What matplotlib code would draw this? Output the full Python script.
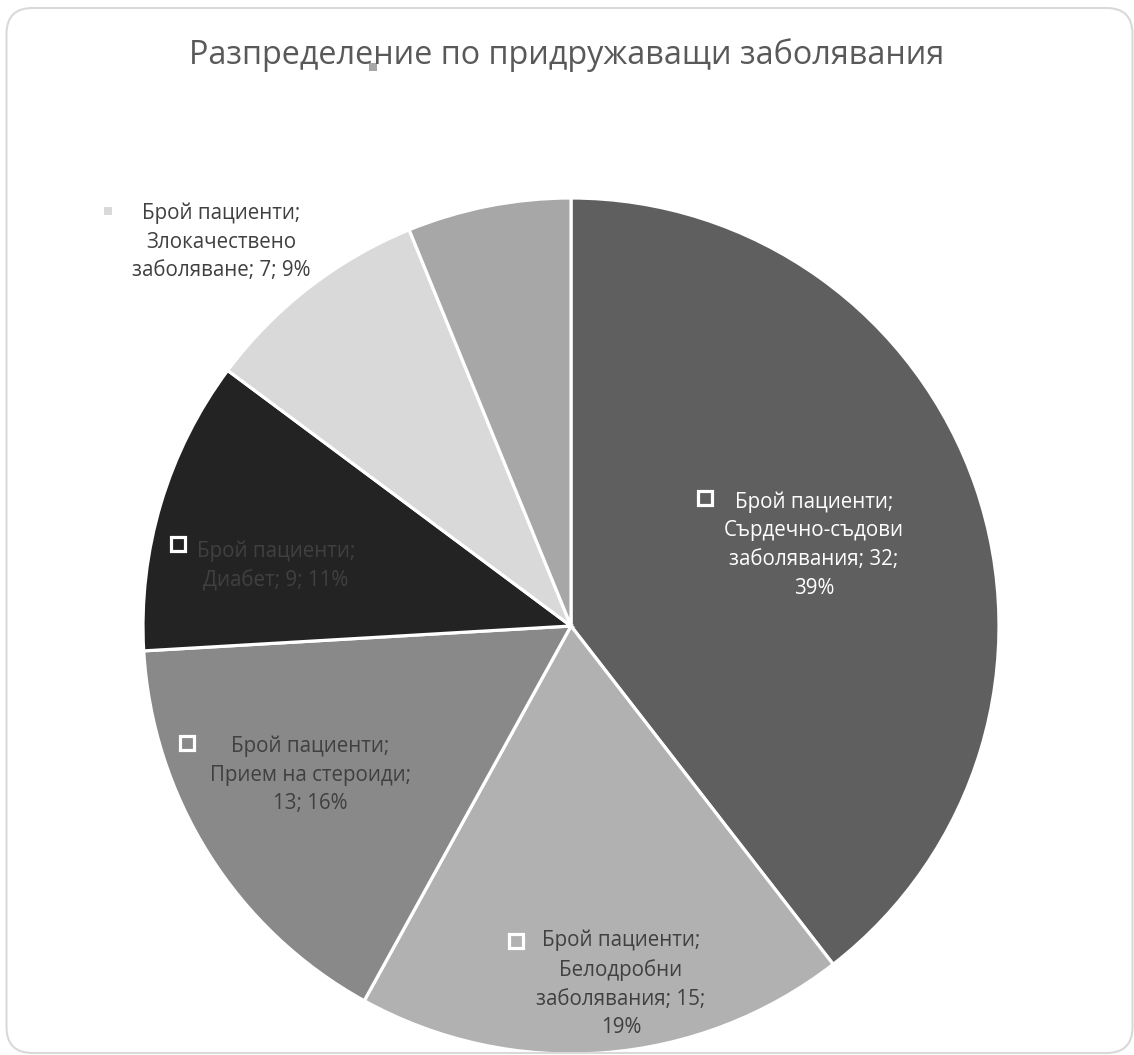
import matplotlib
matplotlib.use("Agg")
import matplotlib.pyplot as plt
from matplotlib.patches import FancyBboxPatch

plt.rcParams['font.family'] = ['Open Sans', 'DejaVu Sans']

# --- данни ---
series_name = "Брой пациенти"
categories = ["Сърдечно-съдови\nзаболявания", "Белодробни\nзаболявания",
              "Прием на стероиди", "Диабет", "Злокачествено\nзаболяване", "Други"]
patients = [32, 15, 13, 9, 7, 5]
pct_labels = [39, 19, 16, 11, 9, 6]
colors = ["#5f5f5f", "#b1b1b1", "#898989", "#232323", "#d9d9d9", "#a7a7a7"]
title = "Разпределение по придружаващи заболявания"

# label texts as Excel lays them out (series; category; value; percent)
label_texts = [
    "Брой пациенти;\nСърдечно-съдови\nзаболявания; 32;\n39%",
    "Брой пациенти;\nБелодробни\nзаболявания; 15;\n19%",
    "Брой пациенти;\nПрием на стероиди;\n13; 16%",
    "Брой пациенти;\nДиабет; 9; 11%",
    "Брой пациенти;\nЗлокачествено\nзаболяване; 7; 9%",
    None,
]
label_colors = ["white", "#404040", "#404040", "#404040", "#404040", "#404040"]

W, H = 1134, 1055
# pixel positions (x, y from top) of label blocks and their legend keys
label_pos = [(814, 545), (621, 984), (310, 775), (276, 566), (221, 242), None]
key_pos = [(705, 498), (516, 941), (187, 743), (178, 544), (108, 211), (373, 67)]

fig = plt.figure(figsize=(W / 100, H / 100), dpi=100)
ax = fig.add_axes([0, 0, 1, 1])

cx, cy, r = 571, 626, 428
ax.pie(patients, colors=colors, startangle=90, counterclock=False,
       radius=r, center=(cx, H - cy),
       wedgeprops=dict(edgecolor="white", linewidth=2.3))

for i, txt in enumerate(label_texts):
    if txt is not None:
        x, y = label_pos[i]
        ax.text(x, H - y, txt, ha="center", va="center", fontsize=14.8,
                color=label_colors[i], linespacing=1.48, multialignment="center")
    kx, ky = key_pos[i]
    small = i in (4, 5)
    ax.plot(kx, H - ky, marker="s", markersize=6 if small else 9.5,
            markerfacecolor=colors[i], markeredgecolor="white",
            markeredgewidth=0 if small else 2.3, linestyle="none")

ax.text(W / 2, H - 55, title, ha="center", va="center", fontsize=23.3,
        color="#595959")

# rounded chart-area border
border = FancyBboxPatch((6.5, 2), 1126, 1045,
                        boxstyle="round,pad=0,rounding_size=26",
                        facecolor="none", edgecolor="#d9d9d9", linewidth=1.5,
                        clip_on=False)
ax.add_patch(border)

ax.set_xlim(0, W)
ax.set_ylim(0, H)
ax.set_aspect("auto")
ax.axis("off")

fig.savefig("out.png", dpi=100, facecolor="white")
